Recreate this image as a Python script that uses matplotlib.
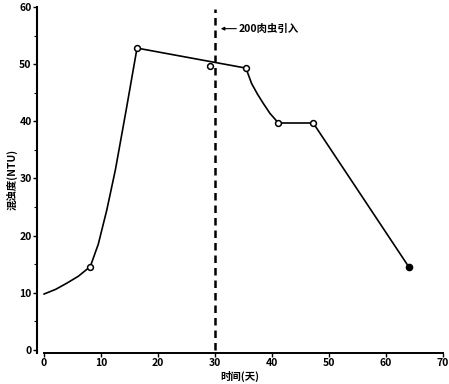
import numpy as np
import matplotlib
matplotlib.use("Agg")
import matplotlib.pyplot as plt
from matplotlib.ticker import MultipleLocator

plt.rcParams['font.family'] = ['Noto Sans CJK SC', 'DejaVu Sans']

# measured points (days, NTU)
day_main = [8.1, 16.3, 35.4, 41.1, 47.2]
ntu_main = [14.6, 52.8, 49.3, 39.7, 39.7]
day_off = [29.1]
ntu_off = [49.6]
day_end = [64.0]
ntu_end = [14.5]

# traced curve through the points
curve_day = [0, 2, 4, 6, 8.1, 9.5, 11.0, 12.5, 14.4, 16.3,
             35.4, 36.4, 37.4, 38.4, 39.6, 41.1, 47.2, 64.0]
curve_ntu = [9.8, 10.6, 11.7, 12.9, 14.6, 18.5, 24.5, 31.5, 42.0, 52.8,
             49.3, 46.6, 44.8, 43.2, 41.4, 39.7, 39.7, 14.5]

intro_day = 30

fig = plt.figure(figsize=(4.49, 3.84), dpi=100)
ax = fig.add_axes([0.083, 0.081, 0.904, 0.901])

ax.plot(curve_day, curve_ntu, color="black", lw=1.2, zorder=2,
        solid_joinstyle="round")
ax.plot(day_main + day_off, ntu_main + ntu_off, "o", ms=4.2, mfc="white", mec="black", mew=1.1, zorder=3)
ax.plot(day_end, ntu_end, "o", ms=4.5, color="black", zorder=3)

ax.plot([intro_day, intro_day], [0, 59.6], color="black", lw=1.8, ls=(0, (3, 2)), zorder=1)
ax.annotate("200肉虫引入", xy=(31.0, 56.2), xytext=(34.2, 56.2),
            fontsize=7.5, fontweight="bold", va="center", ha="left",
            arrowprops=dict(arrowstyle="-|>", color="black", lw=0.8, mutation_scale=5,
                            shrinkA=0, shrinkB=0))

ax.set_xlim(-1.2, 70)
ax.set_ylim(-0.5, 60)
ax.spines["top"].set_visible(False)
ax.spines["right"].set_visible(False)
ax.spines["bottom"].set_bounds(0, 70)
ax.spines["left"].set_bounds(-0.5, 60)
ax.spines["left"].set_linewidth(1.5)
ax.spines["bottom"].set_linewidth(1.4)

ax.set_xticks(range(0, 71, 10))
ax.set_yticks(range(0, 61, 10))
ax.yaxis.set_minor_locator(MultipleLocator(5))
ax.tick_params(axis="both", which="major", length=3, width=1, labelsize=7.5, pad=1)
ax.tick_params(axis="y", which="minor", length=2, width=0.8)
for lbl in ax.get_xticklabels() + ax.get_yticklabels():
    lbl.set_fontweight("bold")

ax.set_xlabel("时间(天)", fontsize=7.5, fontweight="bold", labelpad=2)
ax.set_ylabel("混浊度(NTU)", fontsize=7.5, fontweight="bold", labelpad=1)

fig.savefig("out.png", dpi=100)
